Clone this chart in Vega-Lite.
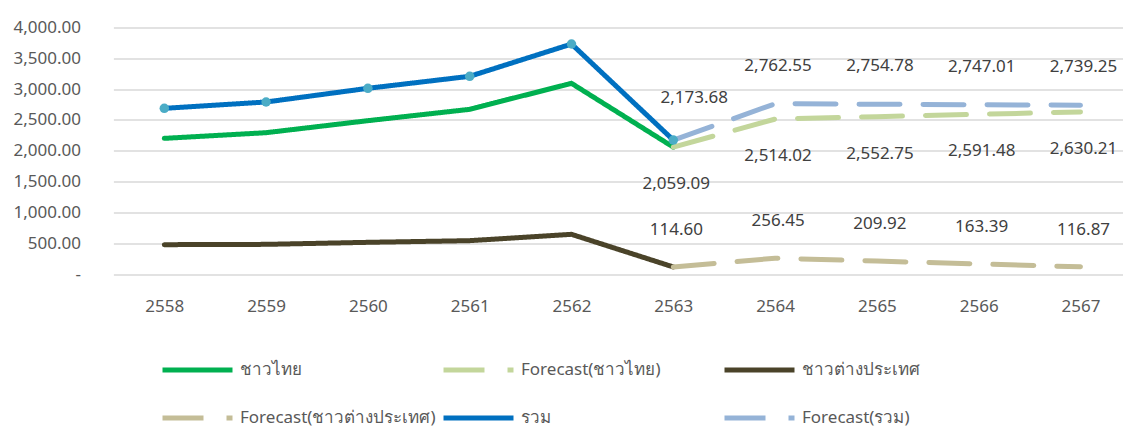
{
  "$schema": "https://vega.github.io/schema/vega-lite/v6.json",
  "width": 1009.6,
  "height": 246.5,
  "autosize": {"type": "none"},
  "padding": {"left": 113.4, "top": 27.5, "right": 0, "bottom": 153},
  "config": {"font": "Noto Sans", "view": {"stroke": null}},
  "data": {
    "values": [
      {"year": 2558, "series": "ชาวไทย", "value": 2201},
      {"year": 2559, "series": "ชาวไทย", "value": 2293},
      {"year": 2560, "series": "ชาวไทย", "value": 2488},
      {"year": 2561, "series": "ชาวไทย", "value": 2672},
      {"year": 2562, "series": "ชาวไทย", "value": 3094},
      {"year": 2563, "series": "ชาวไทย", "value": 2059.09},
      {"year": 2558, "series": "ชาวต่างประเทศ", "value": 476},
      {"year": 2559, "series": "ชาวต่างประเทศ", "value": 481},
      {"year": 2560, "series": "ชาวต่างประเทศ", "value": 514},
      {"year": 2561, "series": "ชาวต่างประเทศ", "value": 541},
      {"year": 2562, "series": "ชาวต่างประเทศ", "value": 644},
      {"year": 2563, "series": "ชาวต่างประเทศ", "value": 114.6},
      {"year": 2558, "series": "รวม", "value": 2688},
      {"year": 2559, "series": "รวม", "value": 2791},
      {"year": 2560, "series": "รวม", "value": 3013},
      {"year": 2561, "series": "รวม", "value": 3208},
      {"year": 2562, "series": "รวม", "value": 3732},
      {"year": 2563, "series": "รวม", "value": 2173.68},
      {"year": 2563, "series": "Forecast(ชาวไทย)", "value": 2059.09},
      {"year": 2564, "series": "Forecast(ชาวไทย)", "value": 2514.02},
      {"year": 2565, "series": "Forecast(ชาวไทย)", "value": 2552.75},
      {"year": 2566, "series": "Forecast(ชาวไทย)", "value": 2591.48},
      {"year": 2567, "series": "Forecast(ชาวไทย)", "value": 2630.21},
      {"year": 2563, "series": "Forecast(ชาวต่างประเทศ)", "value": 114.6},
      {"year": 2564, "series": "Forecast(ชาวต่างประเทศ)", "value": 256.45},
      {"year": 2565, "series": "Forecast(ชาวต่างประเทศ)", "value": 209.92},
      {"year": 2566, "series": "Forecast(ชาวต่างประเทศ)", "value": 163.39},
      {"year": 2567, "series": "Forecast(ชาวต่างประเทศ)", "value": 116.87},
      {"year": 2563, "series": "Forecast(รวม)", "value": 2173.68},
      {"year": 2564, "series": "Forecast(รวม)", "value": 2762.55},
      {"year": 2565, "series": "Forecast(รวม)", "value": 2754.78},
      {"year": 2566, "series": "Forecast(รวม)", "value": 2747.01},
      {"year": 2567, "series": "Forecast(รวม)", "value": 2739.25}
    ]
  },
  "encoding": {
    "x": {
      "field": "year", "type": "quantitative",
      "scale": {"domain": [2557.5, 2567.4175], "nice": false, "zero": false},
      "axis": {"values": [2558, 2559, 2560, 2561, 2562, 2563, 2564, 2565, 2566, 2567], "format": "d", "grid": false, "domain": false, "ticks": false, "labelPadding": 24, "labelFontSize": 17, "labelColor": "#595959", "title": null, "labelFlush": false}
    },
    "y": {
      "field": "value", "type": "quantitative",
      "scale": {"domain": [0, 4000], "nice": false},
      "axis": {"values": [0, 500, 1000, 1500, 2000, 2500, 3000, 3500, 4000], "labelExpr": "datum.value == 0 ? '-   ' : format(datum.value, ',.2f')", "grid": true, "gridColor": "#D9D9D9", "gridWidth": 1.3, "domain": false, "ticks": false, "labelPadding": 33, "labelFontSize": 17, "labelColor": "#595959", "title": null}
    }
  },
  "layer": [
    {
      "mark": {"type": "line", "strokeWidth": 5, "strokeCap": "round", "strokeJoin": "round"},
      "encoding": {
        "color": {
          "field": "series", "type": "nominal",
          "scale": {"domain": ["ชาวไทย", "Forecast(ชาวไทย)", "ชาวต่างประเทศ", "Forecast(ชาวต่างประเทศ)", "รวม", "Forecast(รวม)"], "range": ["#00B050", "#C3D69B", "#4A4329", "#C4BD97", "#0070C0", "#95B3D7"]},
          "legend": {"orient": "none", "direction": "horizontal", "legendX": 46.6, "legendY": 332.5, "columns": 3, "title": null, "symbolType": "stroke", "symbolSize": 4900, "symbolStrokeWidth": 5, "clipHeight": 20, "rowPadding": 28, "columnPadding": 5, "labelFontSize": 17, "labelColor": "#595959", "labelOffset": 5, "gridAlign": "all", "padding": 0, "labelLimit": 400, "symbolOpacity": 1}
        },
        "strokeDash": {
          "field": "series", "type": "nominal",
          "scale": {"domain": ["ชาวไทย", "Forecast(ชาวไทย)", "ชาวต่างประเทศ", "Forecast(ชาวต่างประเทศ)", "รวม", "Forecast(รวม)"], "range": [[1, 0], [41, 23], [1, 0], [41, 23], [1, 0], [41, 23]]},
          "legend": {"orient": "none", "direction": "horizontal", "legendX": 46.6, "legendY": 332.5, "columns": 3, "title": null, "symbolType": "stroke", "symbolSize": 4900, "symbolStrokeWidth": 5, "clipHeight": 20, "rowPadding": 28, "columnPadding": 5, "labelFontSize": 17, "labelColor": "#595959", "labelOffset": 5, "gridAlign": "all", "padding": 0, "labelLimit": 400, "symbolOpacity": 1}
        }
      }
    },
    {
      "transform": [{"filter": "datum.series == 'รวม'"}],
      "mark": {"type": "point", "filled": true, "size": 90, "opacity": 1, "color": "#4BACC6"}
    },
    {
      "transform": [{"filter": "datum.series == 'Forecast(ชาวไทย)'"}],
      "mark": {"type": "text", "fontSize": 17, "color": "#404040", "dy": 37, "dx": 3},
      "encoding": {"text": {"field": "value", "type": "quantitative", "format": ",.2f"}}
    },
    {
      "transform": [{"filter": "datum.series == 'Forecast(ชาวต่างประเทศ)'"}],
      "mark": {"type": "text", "fontSize": 17, "color": "#404040", "dy": -37, "dx": 3},
      "encoding": {"text": {"field": "value", "type": "quantitative", "format": ",.2f"}}
    },
    {
      "transform": [{"filter": "datum.series == 'Forecast(รวม)' && datum.year > 2563"}],
      "mark": {"type": "text", "fontSize": 17, "color": "#404040", "dy": -38, "dx": 3},
      "encoding": {"text": {"field": "value", "type": "quantitative", "format": ",.2f"}}
    },
    {
      "transform": [{"filter": "datum.series == 'Forecast(รวม)' && datum.year == 2563"}],
      "mark": {"type": "text", "fontSize": 17, "color": "#404040", "dy": -42, "dx": 21},
      "encoding": {"text": {"field": "value", "type": "quantitative", "format": ",.2f"}}
    }
  ]
}
